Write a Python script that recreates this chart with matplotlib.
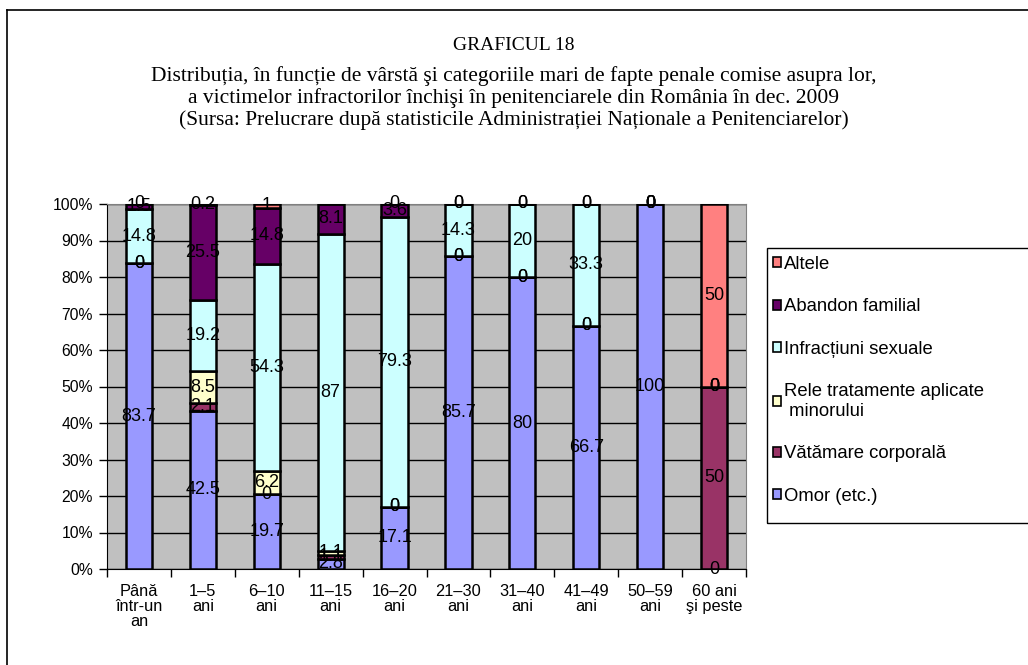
import matplotlib
matplotlib.use('Agg')
import matplotlib.pyplot as plt
from matplotlib.lines import Line2D
from matplotlib.patches import Patch, Rectangle
import numpy as np

plt.rcParams.update({'font.family': ['Liberation Sans', 'DejaVu Sans']})

# date
categorii = ['Până\nîntr-un\nan', '1–5\nani', '6–10\nani', '11–15\nani', '16–20\nani',
             '21–30\nani', '31–40\nani', '41–49\nani', '50–59\nani', '60 ani\nşi peste']
omor      = [83.7, 42.5, 19.7, 2.8, 17.1, 85.7, 80, 66.7, 100, 0]
vatamare  = [0, 2.1, 0, 1.1, 0, 0, 0, 0, 0, 50]
rele      = [0, 8.5, 6.2, 1.1, 0, 0, 0, 0, 0, 0]
sexuale   = [14.8, 19.2, 54.3, 87, 79.3, 14.3, 20, 33.3, 0, 0]
abandon   = [1.5, 25.5, 14.8, 8.1, 3.6, 0, 0, 0, 0, 0]
altele    = [0, 0.2, 1, 0, 0, 0, 0, 0, 0, 50]

serii = [
    ('Omor (etc.)', omor, '#9999FF'),
    ('Vătămare corporală', vatamare, '#993366'),
    ('Rele tratamente aplicate\n minorului', rele, '#FFFFCC'),
    ('Infracțiuni sexuale', sexuale, '#CCFFFF'),
    ('Abandon familial', abandon, '#660066'),
    ('Altele', altele, '#FF8080'),
]

W, H = 1028, 665
fig = plt.figure(figsize=(W / 100, H / 100), dpi=100)
ax = fig.add_axes([107 / W, 1 - 569 / H, (746 - 107) / W, (569 - 204) / H])
ax.set_facecolor('#C0C0C0')

x = np.arange(len(categorii))
total = np.sum([np.array(s[1], dtype=float) for s in serii], axis=0)
jos = np.zeros(len(categorii))
for nume, val, col in serii:
    v = np.array(val, dtype=float)
    pct = v / total * 100
    bare = ax.bar(x, pct, bottom=jos, width=0.41, color=col, edgecolor='black',
                  linewidth=1.8, zorder=3)
    ax.bar_label(bare, labels=[f'{a:g}' for a in v], label_type='center',
                 fontsize=13, zorder=4)
    jos += pct

ax.set_xlim(-0.5, len(categorii) - 0.5)
ax.set_ylim(0, 100)
ax.set_yticks(np.arange(0, 101, 10))
ax.set_yticklabels([f'{t}%' for t in range(0, 101, 10)], fontsize=11.3)
ax.yaxis.grid(True, color='black', lw=1.0, zorder=0)
ax.tick_params(axis='y', direction='out', length=6, width=1, pad=4)

ax.set_xticks(x)
ax.set_xticklabels(categorii, fontsize=11.8, linespacing=1.0)
ax.set_xticks(np.arange(-0.5, len(categorii), 1), minor=True)
ax.tick_params(axis='x', which='major', length=0, pad=11)
ax.tick_params(axis='x', which='minor', length=6, width=1, direction='out')

for s in ['top', 'right']:
    ax.spines[s].set_color('#808080')
for s in ['left', 'bottom']:
    ax.spines[s].set_color('black')

# legenda (chenarul iese din imagine spre dreapta, ca in original)
handles = [Patch(facecolor=col, edgecolor='black', lw=1.2, label=nume)
           for nume, val, col in serii[::-1]]
leg = fig.legend(handles=handles, loc='upper left', bbox_to_anchor=(769 / W, 1 - 252 / H),
                 fontsize=13.3, frameon=False,
                 handlelength=0.45, handleheight=0.45, handletextpad=0.15,
                 labelspacing=1.38, borderpad=0.2, borderaxespad=0)
fig.add_artist(Rectangle((767 / W, 1 - 523 / H), 300 / W, (523 - 248) / H,
                         transform=fig.transFigure, fill=False, ec='black', lw=1.0))

# titlu
fig.text(0.5, 1 - 45 / H, 'GRAFICUL 18', ha='center', va='center', fontsize=14,
         family=['Liberation Serif', 'DejaVu Serif'])
fig.text(0.5, 1 - 98 / H,
         'Distribuția, în funcție de vârstă şi categoriile mari de fapte penale comise asupra lor,\n'
         'a victimelor infractorilor închişi în penitenciarele din România în dec. 2009\n'
         '(Sursa: Prelucrare după statisticile Administrației Naționale a Penitenciarelor)',
         ha='center', va='center', fontsize=15.5, linespacing=1.16,
         family=['Liberation Serif', 'DejaVu Serif'])

# chenar
fig.add_artist(Line2D([7 / W, 7 / W], [0, 1 - 10 / H], color='black', lw=1.2,
                      transform=fig.transFigure))
fig.add_artist(Line2D([7 / W, 1], [1 - 10 / H, 1 - 10 / H], color='black', lw=1.2,
                      transform=fig.transFigure))

fig.savefig('out.png', dpi=100)
